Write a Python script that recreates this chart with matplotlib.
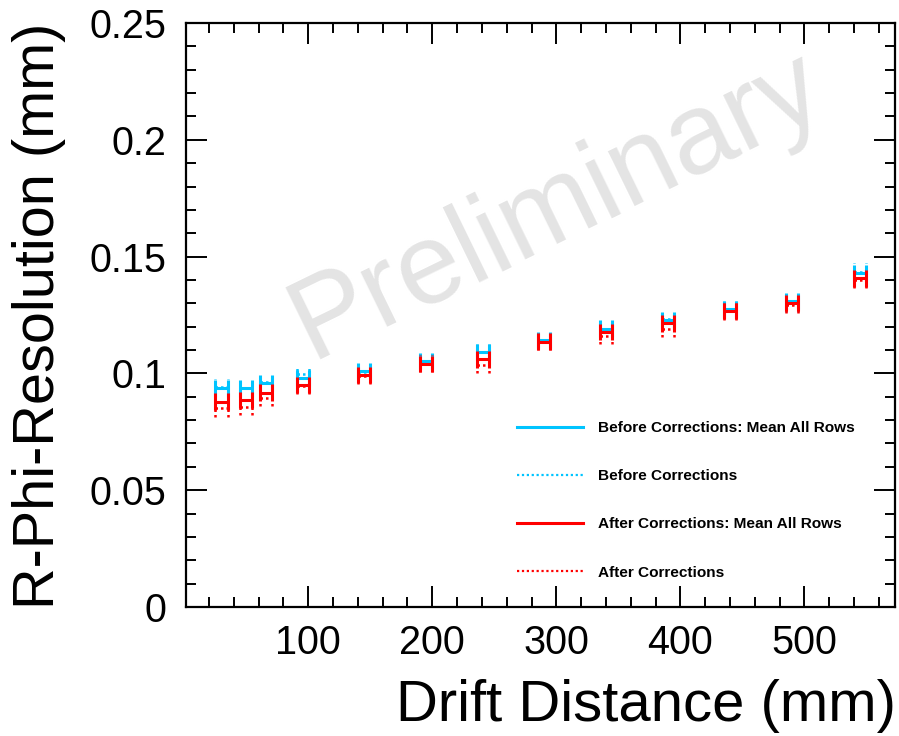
import matplotlib
matplotlib.use("Agg")
import matplotlib.pyplot as plt
from matplotlib.lines import Line2D
from matplotlib.ticker import MultipleLocator, FixedLocator, FuncFormatter

plt.rcParams['font.family'] = ['Liberation Sans', 'DejaVu Sans']

# Drift distance (mm) of each point and R-Phi resolution (mm)
drift = [30, 50, 66, 96, 145, 195, 241, 290, 340, 390, 440, 490, 545]
before_mean = [0.0936, 0.0936, 0.0958, 0.0979, 0.1010, 0.1052, 0.1092, 0.1142,
               0.1192, 0.1229, 0.1276, 0.1311, 0.1431]
before_rows = [0.0940, 0.0938, 0.0962, 0.0997, 0.1005, 0.1050, 0.1090, 0.1140,
               0.1188, 0.1232, 0.1274, 0.1296, 0.1436]
after_mean = [0.0879, 0.0886, 0.0918, 0.0950, 0.0993, 0.1040, 0.1060, 0.1136,
              0.1178, 0.1214, 0.1268, 0.1300, 0.1407]
after_rows = [0.0850, 0.0857, 0.0894, 0.0945, 0.0990, 0.1042, 0.1036, 0.1134,
              0.1160, 0.1190, 0.1265, 0.1293, 0.1400]

labels = ["Before Corrections: Mean All Rows", "Before Corrections",
          "After Corrections: Mean All Rows", "After Corrections"]

cyan = "#00c4ff"
red = "#ff0000"
xerr = 5.0      # half width of the H marks (mm)
cap = 0.0035    # half height of the end caps

fig = plt.figure(figsize=(8.99, 7.36), dpi=100)
ax = fig.add_axes([186 / 899, 1 - 607 / 736, 709 / 899, 584 / 736])


def draw_h(xs, ys, color, ls, lw):
    # horizontal error bar with vertical end caps, like ROOT draws it
    left = [x - xerr for x in xs]
    right = [x + xerr for x in xs]
    lo = [y - cap for y in ys]
    hi = [y + cap for y in ys]
    ax.hlines(ys, left, right, colors=color, linestyles=ls, linewidth=lw)
    ax.vlines(left, lo, hi, colors=color, linestyles=ls, linewidth=lw)
    ax.vlines(right, lo, hi, colors=color, linestyles=ls, linewidth=lw)


dot = (0, (1, 1.2))
draw_h(drift, before_rows, cyan, dot, 1.8)
draw_h(drift, before_mean, cyan, 'solid', 2.2)
draw_h(drift, after_rows, red, dot, 1.8)
draw_h(drift, after_mean, red, 'solid', 2.2)

ax.set_xlim(1.5, 573)
ax.set_ylim(0, 0.25)

ax.xaxis.set_major_locator(FixedLocator([100, 200, 300, 400, 500]))
ax.xaxis.set_minor_locator(MultipleLocator(20))
ax.yaxis.set_major_locator(MultipleLocator(0.05))
ax.yaxis.set_minor_locator(MultipleLocator(0.01))
ax.yaxis.set_major_formatter(FuncFormatter(lambda v, p: "%g" % round(v, 3)))

ax.tick_params(which='both', direction='in', top=True, right=True, width=1.4)
ax.tick_params(which='major', length=15)
ax.tick_params(which='minor', length=7)
ax.tick_params(axis='x', labelsize=28.5, pad=12)
ax.tick_params(axis='y', labelsize=28.5, pad=14)
for s in ax.spines.values():
    s.set_linewidth(1.6)

fig.text(39 / 899, 1 - 23 / 736, "R-Phi-Resolution (mm)", rotation=90,
         ha='center', va='top', fontsize=41.5)
fig.text(896 / 899, 1 - 706 / 736, "Drift Distance (mm)",
         ha='right', va='center', fontsize=41.8)

# watermark
ax.text(0.523, 0.685, "Preliminary", transform=ax.transAxes, rotation=26,
        ha='center', va='center', fontsize=83, color="#e4e4e4", zorder=0)

handles = [Line2D([], [], color=cyan, lw=2.2),
           Line2D([], [], color=cyan, lw=1.6, ls=dot),
           Line2D([], [], color=red, lw=2.2),
           Line2D([], [], color=red, lw=1.6, ls=dot)]
ax.legend(handles, labels, loc='upper left',
          bbox_to_anchor=(517 / 899, 1 - 421 / 736),
          bbox_transform=fig.transFigure, frameon=False,
          borderpad=0, borderaxespad=0, handlelength=4.3, handletextpad=0.95,
          labelspacing=2.22, prop={'weight': 'bold', 'size': 11.1})

fig.savefig("out.png", dpi=100)
